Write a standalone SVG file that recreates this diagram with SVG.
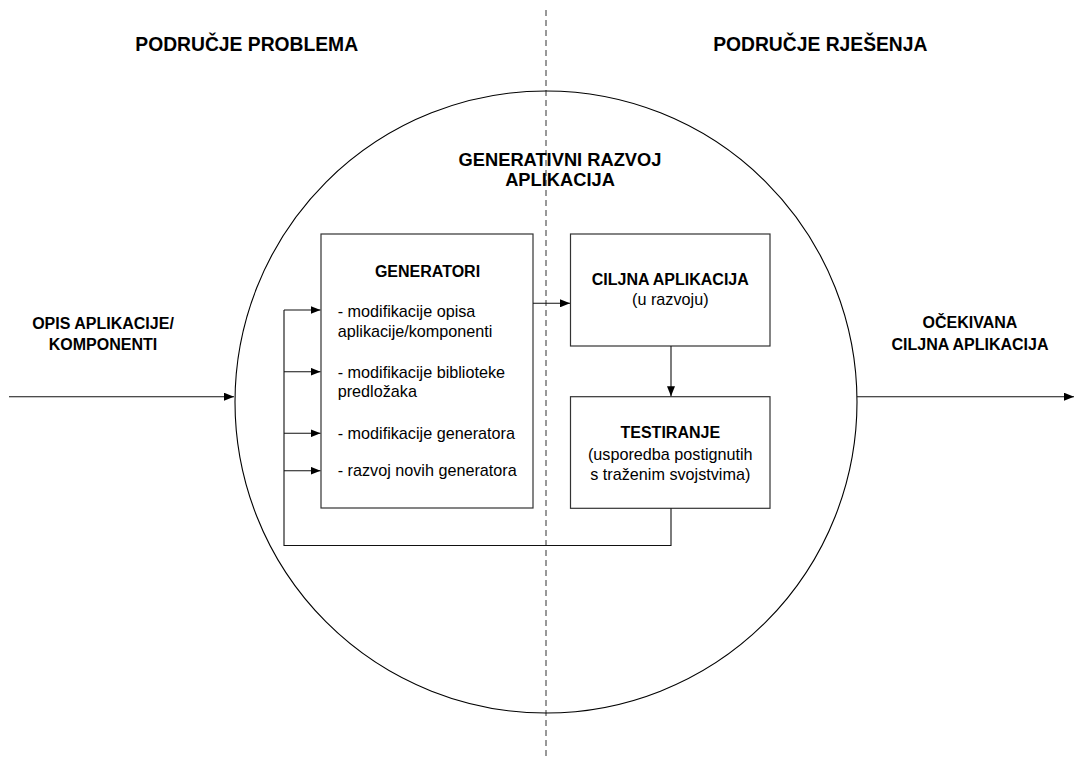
<svg xmlns="http://www.w3.org/2000/svg" width="1074" height="758" viewBox="0 0 1074 758">
<style>
text{font-family:"Liberation Sans",Arial,sans-serif;fill:#000}
.h{font-size:19.3px;font-weight:bold;text-anchor:middle}
.t{font-size:18.3px;font-weight:bold;text-anchor:middle}
.b{font-size:16px;font-weight:bold;text-anchor:middle}
.r{font-size:16.2px}
.rc{font-size:16.2px;text-anchor:middle}
.box{fill:#fff;stroke:#333;stroke-width:1.2}
.ln{fill:none;stroke:#111;stroke-width:1.1}
</style>
<defs>
<marker id="ar" viewBox="0 0 10 8" refX="10" refY="4" markerWidth="10" markerHeight="8" markerUnits="userSpaceOnUse" orient="auto">
<path d="M0,0 L10,4 L0,8 Z" fill="#000"/>
</marker>
</defs>
<rect width="1074" height="758" fill="#fff"/>
<g id="boundary">
<line x1="546" y1="10" x2="546" y2="758" stroke="#333" stroke-width="1" stroke-dasharray="6,4"/>
<circle cx="546" cy="402" r="311" fill="none" stroke="#000" stroke-width="1.1"/>
</g>
<g id="heading-problem"><text class="h" x="246.7" y="50.7">PODRUČJE PROBLEMA</text></g>
<g id="heading-solution"><text class="h" x="820.3" y="50.7">PODRUČJE RJEŠENJA</text></g>
<g id="title"><text class="t" x="560" y="166.3">GENERATIVNI RAZVOJ</text><text class="t" x="560" y="185.5">APLIKACIJA</text></g>
<g id="input-label"><text class="b" x="103" y="329.3">OPIS APLIKACIJE/</text><text class="b" x="103" y="350">KOMPONENTI</text></g>
<g id="output-label"><text class="b" x="970" y="328.3">OČEKIVANA</text><text class="b" x="970" y="350">CILJNA APLIKACIJA</text></g>
<g id="generatori">
<rect class="box" x="321" y="234" width="212" height="274"/>
<text class="b" x="427.5" y="276.7">GENERATORI</text>
<text class="r" x="337.7" y="317">- modifikacije opisa</text>
<text class="r" x="337.7" y="336.7">aplikacije/komponenti</text>
<text class="r" x="337.7" y="378">- modifikacije biblioteke</text>
<text class="r" x="337.7" y="397">predložaka</text>
<text class="r" x="337.7" y="438.5">- modifikacije generatora</text>
<text class="r" x="337.7" y="476">- razvoj novih generatora</text>
</g>
<g id="ciljna">
<rect class="box" x="570.5" y="234" width="199.5" height="112"/>
<text class="b" x="670.3" y="285">CILJNA APLIKACIJA</text>
<text class="rc" x="670.3" y="305">(u razvoju)</text>
</g>
<g id="testiranje">
<rect class="box" x="570.5" y="396.7" width="199.5" height="111.6"/>
<text class="b" x="670.3" y="438.3">TESTIRANJE</text>
<text class="rc" x="670.3" y="460">(usporedba postignutih</text>
<text class="rc" x="670.3" y="480">s traženim svojstvima)</text>
</g>
<g id="connectors">
<line class="ln" x1="9" y1="396.7" x2="234" y2="396.7" marker-end="url(#ar)"/>
<line class="ln" x1="857" y1="396.7" x2="1074" y2="396.7" marker-end="url(#ar)"/>
<line class="ln" x1="533" y1="303.3" x2="570" y2="303.3" marker-end="url(#ar)"/>
<line class="ln" x1="671" y1="346" x2="671" y2="396.2" marker-end="url(#ar)"/>
<polyline class="ln" points="671,508.3 671,545.5 284,545.5 284,310"/>
<line class="ln" x1="284" y1="310" x2="320.5" y2="310" marker-end="url(#ar)"/>
<line class="ln" x1="284" y1="371.7" x2="320.5" y2="371.7" marker-end="url(#ar)"/>
<line class="ln" x1="284" y1="433.3" x2="320.5" y2="433.3" marker-end="url(#ar)"/>
<line class="ln" x1="284" y1="470.7" x2="320.5" y2="470.7" marker-end="url(#ar)"/>
</g>
</svg>
